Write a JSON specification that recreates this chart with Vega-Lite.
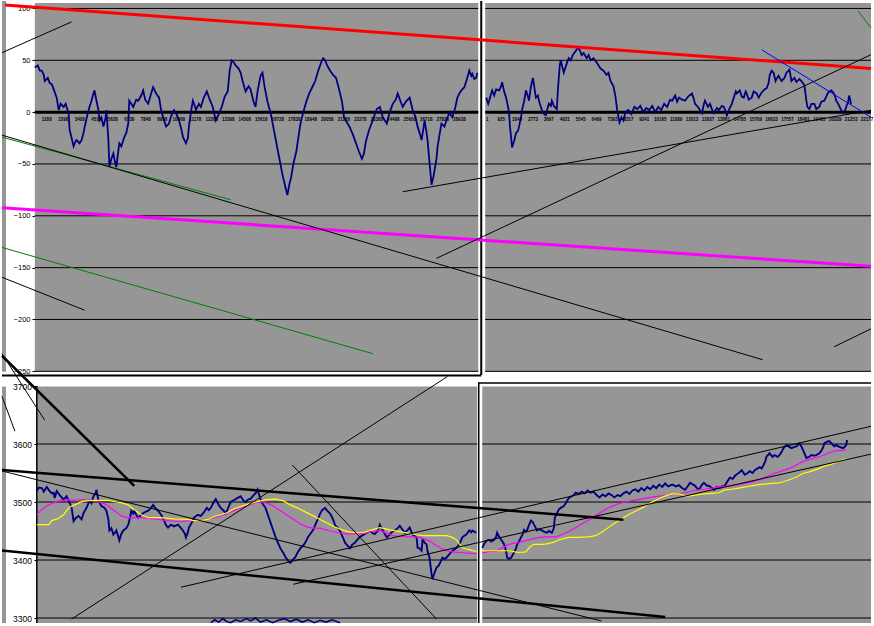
{
"$schema": "https://vega.github.io/schema/vega-lite/v6.json",
"width": 874, "height": 626,
"autosize": {"type": "fit", "contains": "padding"},
"padding": 0,
"background": "#ffffff",
"config": {"view": {"stroke": null}},
"datasets": {
"topPanels": [{"t":0,"t2":4,"v":107.19,"v2":-250.3},{"t":33,"t2":479,"v":105.27,"v2":-250.3},{"t":486,"t2":874,"v":105.27,"v2":-250.3}],
"topGrid": [{"v":100,"t":33,"t2":479},{"v":50,"t":33,"t2":479},{"v":0,"t":33,"t2":479},{"v":-50,"t":33,"t2":479},{"v":-100,"t":33,"t2":479},{"v":-150,"t":33,"t2":479},{"v":-200,"t":33,"t2":479},{"v":-250,"t":33,"t2":479},
{"v":100,"t":486,"t2":874},{"v":50,"t":486,"t2":874},{"v":0,"t":486,"t2":874},{"v":-50,"t":486,"t2":874},{"v":-100,"t":486,"t2":874},{"v":-150,"t":486,"t2":874},{"v":-200,"t":486,"t2":874},{"v":-250,"t":486,"t2":874}],
"topFrame": [{"t":482,"v":107.19,"t2":482,"v2":-253.6},{"t":0,"v":-254.13,"t2":482,"v2":-254.13}],
"topTicks": [{"t":45,"label":"1188"},{"t":61.6,"label":"2298"},{"t":78.2,"label":"3408"},{"t":94.8,"label":"4518"},{"t":111.4,"label":"5628"},{"t":128,"label":"6738"},{"t":144.6,"label":"7848"},{"t":161.2,"label":"8958"},{"t":177.8,"label":"10068"},{"t":194.4,"label":"11178"},{"t":211,"label":"12288"},{"t":227.6,"label":"13398"},{"t":244.2,"label":"14508"},{"t":260.8,"label":"15618"},{"t":277.4,"label":"16728"},{"t":294,"label":"17838"},{"t":310.6,"label":"18948"},{"t":327.2,"label":"20058"},{"t":343.8,"label":"21168"},{"t":360.4,"label":"22278"},{"t":377,"label":"23388"},{"t":393.6,"label":"24498"},{"t":410.2,"label":"25608"},{"t":426.8,"label":"26718"},{"t":443.4,"label":"27828"},{"t":460,"label":"28938"},
{"t":488,"label":"1"},{"t":502,"label":"925"},{"t":518,"label":"1849"},{"t":534,"label":"2773"},{"t":550,"label":"3697"},{"t":566,"label":"4621"},{"t":582,"label":"5545"},{"t":598,"label":"6469"},{"t":614,"label":"7393"},{"t":630,"label":"8317"},{"t":646,"label":"9241"},{"t":662,"label":"10165"},{"t":678,"label":"11089"},{"t":694,"label":"12013"},{"t":710,"label":"12937"},{"t":726,"label":"13861"},{"t":742,"label":"14785"},{"t":758,"label":"15709"},{"t":774,"label":"16633"},{"t":790,"label":"17557"},{"t":806,"label":"18481"},{"t":822,"label":"19405"},{"t":838,"label":"20329"},{"t":854,"label":"21253"},{"t":870,"label":"22177"}],
"topTrends": [
{"t":0,"v":-24.1,"t2":230,"v2":-84.5,"kind":"fan"},
{"t":3,"v":103.35,"t2":874,"v2":42.0,"kind":"resistance"},
{"t":0,"v":-92.16,"t2":874,"v2":-148.71,"kind":"support"},
{"t":0,"v":-22.2,"t2":765,"v2":-238.8,"kind":"trend"},
{"t":0,"v":-130.5,"t2":373,"v2":-233.0,"kind":"fan"},
{"t":0,"v":-159.3,"t2":83,"v2":-191.0,"kind":"trend"},
{"t":0,"v":57.35,"t2":70,"v2":87.06,"kind":"trend"},
{"t":403,"v":-76.8,"t2":874,"v2":1.77,"kind":"trend"},
{"t":437,"v":-141.0,"t2":874,"v2":55.4,"kind":"trend"},
{"t":764,"v":60.2,"t2":874,"v2":-4.9,"kind":"down trend"},
{"t":861,"v":97.6,"t2":874,"v2":81.3,"kind":"fan"},
{"t":837,"v":-226.3,"t2":874,"v2":-209.0,"kind":"trend"}],
"osc": [
{"t":33,"v":43,"s":"L"},{"t":36,"v":45,"s":"L"},{"t":38,"v":40,"s":"L"},{"t":40,"v":40,"s":"L"},{"t":42,"v":36,"s":"L"},{"t":43,"v":30,"s":"L"},{"t":46,"v":33,"s":"L"},{"t":48,"v":28,"s":"L"},{"t":50,"v":27,"s":"L"},{"t":52,"v":22,"s":"L"},{"t":55,"v":14,"s":"L"},{"t":57,"v":2,"s":"L"},{"t":59,"v":8,"s":"L"},{"t":62,"v":5,"s":"L"},{"t":64,"v":8,"s":"L"},{"t":67,"v":-1,"s":"L"},{"t":68,"v":-17,"s":"L"},{"t":70,"v":-25,"s":"L"},{"t":72,"v":-33,"s":"L"},{"t":74,"v":-28,"s":"L"},{"t":75,"v":-27,"s":"L"},{"t":78,"v":-30,"s":"L"},{"t":80,"v":-27,"s":"L"},{"t":82,"v":-20,"s":"L"},{"t":83,"v":-15,"s":"L"},{"t":86,"v":-2,"s":"L"},{"t":88,"v":5,"s":"L"},{"t":90,"v":11,"s":"L"},{"t":92,"v":18,"s":"L"},{"t":93,"v":21,"s":"L"},{"t":95,"v":11,"s":"L"},{"t":97,"v":2,"s":"L"},{"t":98,"v":-8,"s":"L"},{"t":100,"v":-5,"s":"L"},{"t":102,"v":-14,"s":"L"},{"t":104,"v":-6,"s":"L"},{"t":105,"v":2,"s":"L"},{"t":107,"v":-27,"s":"L"},{"t":108,"v":-53,"s":"L"},{"t":110,"v":-45,"s":"L"},{"t":112,"v":-40,"s":"L"},{"t":114,"v":-50,"s":"L"},{"t":115,"v":-53,"s":"L"},{"t":116,"v":-45,"s":"L"},{"t":118,"v":-30,"s":"L"},{"t":120,"v":-33,"s":"L"},{"t":123,"v":-24,"s":"L"},{"t":125,"v":-20,"s":"L"},{"t":127,"v":-11,"s":"L"},{"t":128,"v":11,"s":"L"},{"t":130,"v":8,"s":"L"},{"t":132,"v":5,"s":"L"},{"t":135,"v":12,"s":"L"},{"t":137,"v":11,"s":"L"},{"t":140,"v":16,"s":"L"},{"t":142,"v":21,"s":"L"},{"t":144,"v":12,"s":"L"},{"t":147,"v":8,"s":"L"},{"t":150,"v":18,"s":"L"},{"t":152,"v":24,"s":"L"},{"t":154,"v":20,"s":"L"},{"t":155,"v":18,"s":"L"},{"t":158,"v":14,"s":"L"},{"t":160,"v":2,"s":"L"},{"t":162,"v":-5,"s":"L"},{"t":165,"v":-14,"s":"L"},{"t":168,"v":-11,"s":"L"},{"t":170,"v":-4,"s":"L"},{"t":173,"v":2,"s":"L"},{"t":176,"v":-3,"s":"L"},{"t":178,"v":-8,"s":"L"},{"t":180,"v":-15,"s":"L"},{"t":182,"v":-24,"s":"L"},{"t":185,"v":-30,"s":"L"},{"t":187,"v":-25,"s":"L"},{"t":188,"v":-14,"s":"L"},{"t":190,"v":0,"s":"L"},{"t":192,"v":11,"s":"L"},{"t":194,"v":6,"s":"L"},{"t":195,"v":2,"s":"L"},{"t":198,"v":8,"s":"L"},{"t":200,"v":5,"s":"L"},{"t":203,"v":14,"s":"L"},{"t":206,"v":20,"s":"L"},{"t":209,"v":12,"s":"L"},{"t":212,"v":5,"s":"L"},{"t":215,"v":-8,"s":"L"},{"t":218,"v":-2,"s":"L"},{"t":221,"v":5,"s":"L"},{"t":224,"v":15,"s":"L"},{"t":227,"v":20,"s":"L"},{"t":229,"v":40,"s":"L"},{"t":231,"v":50,"s":"L"},{"t":233,"v":48,"s":"L"},{"t":235,"v":45,"s":"L"},{"t":238,"v":42,"s":"L"},{"t":240,"v":38,"s":"L"},{"t":242,"v":30,"s":"L"},{"t":245,"v":20,"s":"L"},{"t":248,"v":25,"s":"L"},{"t":250,"v":22,"s":"L"},{"t":253,"v":10,"s":"L"},{"t":255,"v":5,"s":"L"},{"t":257,"v":20,"s":"L"},{"t":260,"v":35,"s":"L"},{"t":262,"v":38,"s":"L"},{"t":264,"v":25,"s":"L"},{"t":267,"v":10,"s":"L"},{"t":270,"v":0,"s":"L"},{"t":273,"v":-15,"s":"L"},{"t":276,"v":-30,"s":"L"},{"t":279,"v":-45,"s":"L"},{"t":282,"v":-60,"s":"L"},{"t":285,"v":-72,"s":"L"},{"t":287,"v":-80,"s":"L"},{"t":289,"v":-70,"s":"L"},{"t":291,"v":-62,"s":"L"},{"t":293,"v":-50,"s":"L"},{"t":296,"v":-38,"s":"L"},{"t":298,"v":-25,"s":"L"},{"t":300,"v":-12,"s":"L"},{"t":303,"v":0,"s":"L"},{"t":306,"v":10,"s":"L"},{"t":309,"v":18,"s":"L"},{"t":312,"v":24,"s":"L"},{"t":315,"v":30,"s":"L"},{"t":318,"v":40,"s":"L"},{"t":321,"v":48,"s":"L"},{"t":323,"v":52,"s":"L"},{"t":325,"v":50,"s":"L"},{"t":327,"v":45,"s":"L"},{"t":330,"v":40,"s":"L"},{"t":333,"v":36,"s":"L"},{"t":336,"v":33,"s":"L"},{"t":339,"v":22,"s":"L"},{"t":342,"v":10,"s":"L"},{"t":344,"v":-5,"s":"L"},{"t":347,"v":-10,"s":"L"},{"t":350,"v":-15,"s":"L"},{"t":353,"v":-22,"s":"L"},{"t":356,"v":-30,"s":"L"},{"t":359,"v":-38,"s":"L"},{"t":362,"v":-45,"s":"L"},{"t":364,"v":-40,"s":"L"},{"t":366,"v":-28,"s":"L"},{"t":369,"v":-18,"s":"L"},{"t":372,"v":-10,"s":"L"},{"t":375,"v":-2,"s":"L"},{"t":377,"v":3,"s":"L"},{"t":380,"v":5,"s":"L"},{"t":383,"v":-5,"s":"L"},{"t":387,"v":-11,"s":"L"},{"t":390,"v":0,"s":"L"},{"t":393,"v":8,"s":"L"},{"t":396,"v":12,"s":"L"},{"t":398,"v":18,"s":"L"},{"t":401,"v":10,"s":"L"},{"t":403,"v":5,"s":"L"},{"t":406,"v":10,"s":"L"},{"t":410,"v":14,"s":"L"},{"t":413,"v":2,"s":"L"},{"t":416,"v":-5,"s":"L"},{"t":418,"v":-14,"s":"L"},{"t":420,"v":-20,"s":"L"},{"t":422,"v":-27,"s":"L"},{"t":424,"v":-15,"s":"L"},{"t":425,"v":-8,"s":"L"},{"t":427,"v":-20,"s":"L"},{"t":428,"v":-27,"s":"L"},{"t":430,"v":-49,"s":"L"},{"t":432,"v":-70,"s":"L"},{"t":434,"v":-62,"s":"L"},{"t":435,"v":-56,"s":"L"},{"t":437,"v":-45,"s":"L"},{"t":438,"v":-34,"s":"L"},{"t":440,"v":-22,"s":"L"},{"t":442,"v":-11,"s":"L"},{"t":445,"v":-14,"s":"L"},{"t":448,"v":-5,"s":"L"},{"t":450,"v":-1,"s":"L"},{"t":453,"v":-5,"s":"L"},{"t":456,"v":5,"s":"L"},{"t":458,"v":14,"s":"L"},{"t":460,"v":18,"s":"L"},{"t":462,"v":21,"s":"L"},{"t":465,"v":24,"s":"L"},{"t":467,"v":30,"s":"L"},{"t":470,"v":40,"s":"L"},{"t":472,"v":35,"s":"L"},{"t":473,"v":37,"s":"L"},{"t":475,"v":32,"s":"L"},{"t":477,"v":33,"s":"L"},{"t":478,"v":38,"s":"L"},
{"t":487,"v":14,"s":"R"},{"t":489,"v":8,"s":"R"},{"t":490,"v":11,"s":"R"},{"t":492,"v":18,"s":"R"},{"t":493,"v":21,"s":"R"},{"t":495,"v":16,"s":"R"},{"t":497,"v":22,"s":"R"},{"t":500,"v":21,"s":"R"},{"t":502,"v":25,"s":"R"},{"t":503,"v":29,"s":"R"},{"t":505,"v":20,"s":"R"},{"t":507,"v":14,"s":"R"},{"t":509,"v":5,"s":"R"},{"t":510,"v":-1,"s":"R"},{"t":511,"v":-15,"s":"R"},{"t":512,"v":-24,"s":"R"},{"t":513,"v":-34,"s":"R"},{"t":515,"v":-28,"s":"R"},{"t":517,"v":-20,"s":"R"},{"t":519,"v":-18,"s":"R"},{"t":520,"v":-14,"s":"R"},{"t":522,"v":-5,"s":"R"},{"t":523,"v":2,"s":"R"},{"t":525,"v":10,"s":"R"},{"t":527,"v":21,"s":"R"},{"t":529,"v":15,"s":"R"},{"t":530,"v":11,"s":"R"},{"t":532,"v":25,"s":"R"},{"t":534,"v":33,"s":"R"},{"t":536,"v":20,"s":"R"},{"t":537,"v":14,"s":"R"},{"t":539,"v":16,"s":"R"},{"t":540,"v":11,"s":"R"},{"t":542,"v":5,"s":"R"},{"t":543,"v":2,"s":"R"},{"t":545,"v":-2,"s":"R"},{"t":547,"v":-3,"s":"R"},{"t":549,"v":5,"s":"R"},{"t":550,"v":8,"s":"R"},{"t":552,"v":6,"s":"R"},{"t":553,"v":11,"s":"R"},{"t":555,"v":6,"s":"R"},{"t":558,"v":3,"s":"R"},{"t":559,"v":20,"s":"R"},{"t":560,"v":33,"s":"R"},{"t":561,"v":45,"s":"R"},{"t":562,"v":50,"s":"R"},{"t":564,"v":42,"s":"R"},{"t":565,"v":38,"s":"R"},{"t":567,"v":44,"s":"R"},{"t":568,"v":47,"s":"R"},{"t":570,"v":52,"s":"R"},{"t":572,"v":50,"s":"R"},{"t":574,"v":55,"s":"R"},{"t":577,"v":59,"s":"R"},{"t":579,"v":62,"s":"R"},{"t":581,"v":60,"s":"R"},{"t":583,"v":55,"s":"R"},{"t":585,"v":57,"s":"R"},{"t":588,"v":52,"s":"R"},{"t":590,"v":55,"s":"R"},{"t":592,"v":50,"s":"R"},{"t":595,"v":52,"s":"R"},{"t":598,"v":48,"s":"R"},{"t":600,"v":45,"s":"R"},{"t":602,"v":42,"s":"R"},{"t":605,"v":40,"s":"R"},{"t":608,"v":36,"s":"R"},{"t":610,"v":38,"s":"R"},{"t":612,"v":30,"s":"R"},{"t":615,"v":25,"s":"R"},{"t":617,"v":15,"s":"R"},{"t":619,"v":0,"s":"R"},{"t":621,"v":-10,"s":"R"},{"t":623,"v":-5,"s":"R"},{"t":625,"v":-8,"s":"R"},{"t":627,"v":0,"s":"R"},{"t":630,"v":2,"s":"R"},{"t":633,"v":-2,"s":"R"},{"t":636,"v":5,"s":"R"},{"t":639,"v":3,"s":"R"},{"t":642,"v":6,"s":"R"},{"t":645,"v":0,"s":"R"},{"t":648,"v":4,"s":"R"},{"t":651,"v":2,"s":"R"},{"t":654,"v":6,"s":"R"},{"t":657,"v":0,"s":"R"},{"t":660,"v":5,"s":"R"},{"t":663,"v":2,"s":"R"},{"t":666,"v":8,"s":"R"},{"t":669,"v":5,"s":"R"},{"t":672,"v":12,"s":"R"},{"t":674,"v":11,"s":"R"},{"t":677,"v":16,"s":"R"},{"t":679,"v":10,"s":"R"},{"t":681,"v":14,"s":"R"},{"t":684,"v":12,"s":"R"},{"t":687,"v":11,"s":"R"},{"t":690,"v":15,"s":"R"},{"t":694,"v":18,"s":"R"},{"t":696,"v":12,"s":"R"},{"t":697,"v":8,"s":"R"},{"t":700,"v":5,"s":"R"},{"t":702,"v":2,"s":"R"},{"t":704,"v":-1,"s":"R"},{"t":706,"v":8,"s":"R"},{"t":707,"v":11,"s":"R"},{"t":710,"v":5,"s":"R"},{"t":712,"v":8,"s":"R"},{"t":714,"v":3,"s":"R"},{"t":716,"v":-1,"s":"R"},{"t":719,"v":4,"s":"R"},{"t":721,"v":2,"s":"R"},{"t":724,"v":6,"s":"R"},{"t":726,"v":5,"s":"R"},{"t":728,"v":0,"s":"R"},{"t":729,"v":-3,"s":"R"},{"t":731,"v":2,"s":"R"},{"t":734,"v":8,"s":"R"},{"t":736,"v":14,"s":"R"},{"t":738,"v":20,"s":"R"},{"t":739,"v":18,"s":"R"},{"t":742,"v":21,"s":"R"},{"t":744,"v":15,"s":"R"},{"t":746,"v":14,"s":"R"},{"t":748,"v":20,"s":"R"},{"t":749,"v":18,"s":"R"},{"t":751,"v":12,"s":"R"},{"t":754,"v":14,"s":"R"},{"t":756,"v":20,"s":"R"},{"t":759,"v":18,"s":"R"},{"t":761,"v":14,"s":"R"},{"t":764,"v":19,"s":"R"},{"t":767,"v":22,"s":"R"},{"t":769,"v":23,"s":"R"},{"t":771,"v":28,"s":"R"},{"t":772,"v":35,"s":"R"},{"t":774,"v":40,"s":"R"},{"t":776,"v":38,"s":"R"},{"t":778,"v":30,"s":"R"},{"t":779,"v":32,"s":"R"},{"t":781,"v":35,"s":"R"},{"t":784,"v":30,"s":"R"},{"t":787,"v":33,"s":"R"},{"t":789,"v":38,"s":"R"},{"t":792,"v":41,"s":"R"},{"t":794,"v":30,"s":"R"},{"t":797,"v":33,"s":"R"},{"t":799,"v":29,"s":"R"},{"t":802,"v":32,"s":"R"},{"t":804,"v":30,"s":"R"},{"t":807,"v":26,"s":"R"},{"t":809,"v":11,"s":"R"},{"t":810,"v":5,"s":"R"},{"t":812,"v":3,"s":"R"},{"t":814,"v":8,"s":"R"},{"t":817,"v":8,"s":"R"},{"t":819,"v":3,"s":"R"},{"t":822,"v":5,"s":"R"},{"t":824,"v":10,"s":"R"},{"t":827,"v":11,"s":"R"},{"t":829,"v":15,"s":"R"},{"t":831,"v":19,"s":"R"},{"t":834,"v":21,"s":"R"},{"t":836,"v":19,"s":"R"},{"t":838,"v":15,"s":"R"},{"t":839,"v":11,"s":"R"},{"t":841,"v":8,"s":"R"},{"t":842,"v":6,"s":"R"},{"t":844,"v":2,"s":"R"},{"t":846,"v":-1,"s":"R"},{"t":848,"v":2,"s":"R"},{"t":849,"v":5,"s":"R"},{"t":851,"v":10,"s":"R"},{"t":852,"v":16,"s":"R"},{"t":853,"v":12,"s":"R"},{"t":854,"v":8,"s":"R"}],
"bottomPanels": [{"t":0,"t2":4,"p":3699.1,"p2":3291.43},{"t":35,"t2":478,"p":3699.1,"p2":3291.43},{"t":483,"t2":874,"p":3699.1,"p2":3291.43}],
"bottomGrid": [{"p":3600,"t":35,"t2":478},{"p":3500,"t":35,"t2":478},{"p":3400,"t":35,"t2":478},{"p":3300,"t":35,"t2":478},{"p":3600,"t":483,"t2":874},{"p":3500,"t":483,"t2":874},{"p":3400,"t":483,"t2":874},{"p":3300,"t":483,"t2":874}],
"bottomFrame": [{"t":35,"p":3699.1,"t2":35,"p2":3291.43},{"t":479.5,"p":3706,"t2":479.5,"p2":3291.43},{"t":479,"p":3705.1,"t2":874,"p2":3705.1}],
"lowerOsc": [{"t":210,"p":3292},{"t":214,"p":3297},{"t":218,"p":3293},{"t":222,"p":3299},{"t":226,"p":3294},{"t":230,"p":3292},{"t":235,"p":3297},{"t":240,"p":3294},{"t":246,"p":3299},{"t":250,"p":3295},{"t":255,"p":3300},{"t":260,"p":3293},{"t":266,"p":3297},{"t":272,"p":3292},{"t":278,"p":3296},{"t":284,"p":3299},{"t":290,"p":3294},{"t":296,"p":3298},{"t":302,"p":3293},{"t":308,"p":3297},{"t":314,"p":3292},{"t":320,"p":3296},{"t":326,"p":3293},{"t":332,"p":3297},{"t":340,"p":3292}],
"bottomTrends": [
{"t":0,"p":3555.2,"t2":625,"p2":3469.6,"kind":"channel"},
{"t":0,"p":3416.5,"t2":667,"p2":3301.7,"kind":"channel"},
{"t":0,"p":3752.2,"t2":133,"p2":3527.8,"kind":"channel"},
{"t":0,"p":3755.7,"t2":43,"p2":3640.9,"kind":"trend"},
{"t":0,"p":3682.0,"t2":13,"p2":3622.1,"kind":"trend"},
{"t":0,"p":3553.5,"t2":603,"p2":3294.9,"kind":"trend"},
{"t":70,"p":3298.3,"t2":448,"p2":3716.3,"kind":"trend"},
{"t":180,"p":3353.1,"t2":874,"p2":3630.6,"kind":"trend"},
{"t":293,"p":3358.2,"t2":874,"p2":3582.6,"kind":"trend"},
{"t":292,"p":3563.8,"t2":437,"p2":3298.3,"kind":"trend"}],
"price": [
{"t":35,"p":3519,"s":"L"},{"t":37,"p":3525,"s":"L"},{"t":40,"p":3524,"s":"L"},{"t":42,"p":3518,"s":"L"},{"t":45,"p":3526,"s":"L"},{"t":47,"p":3521,"s":"L"},{"t":50,"p":3515,"s":"L"},{"t":52,"p":3516,"s":"L"},{"t":53,"p":3507,"s":"L"},{"t":55,"p":3519,"s":"L"},{"t":58,"p":3512,"s":"L"},{"t":60,"p":3508,"s":"L"},{"t":62,"p":3504,"s":"L"},{"t":65,"p":3510,"s":"L"},{"t":67,"p":3502,"s":"L"},{"t":69,"p":3495,"s":"L"},{"t":70,"p":3490,"s":"L"},{"t":72,"p":3467,"s":"L"},{"t":74,"p":3472,"s":"L"},{"t":77,"p":3476,"s":"L"},{"t":80,"p":3470,"s":"L"},{"t":82,"p":3481,"s":"L"},{"t":85,"p":3490,"s":"L"},{"t":88,"p":3502,"s":"L"},{"t":90,"p":3498,"s":"L"},{"t":92,"p":3510,"s":"L"},{"t":94,"p":3515,"s":"L"},{"t":95,"p":3521,"s":"L"},{"t":97,"p":3502,"s":"L"},{"t":100,"p":3493,"s":"L"},{"t":103,"p":3490,"s":"L"},{"t":105,"p":3485,"s":"L"},{"t":107,"p":3470,"s":"L"},{"t":108,"p":3451,"s":"L"},{"t":110,"p":3455,"s":"L"},{"t":112,"p":3444,"s":"L"},{"t":114,"p":3448,"s":"L"},{"t":115,"p":3451,"s":"L"},{"t":117,"p":3440,"s":"L"},{"t":118,"p":3434,"s":"L"},{"t":120,"p":3445,"s":"L"},{"t":122,"p":3451,"s":"L"},{"t":125,"p":3455,"s":"L"},{"t":127,"p":3461,"s":"L"},{"t":129,"p":3475,"s":"L"},{"t":130,"p":3485,"s":"L"},{"t":132,"p":3480,"s":"L"},{"t":133,"p":3485,"s":"L"},{"t":135,"p":3478,"s":"L"},{"t":137,"p":3473,"s":"L"},{"t":140,"p":3478,"s":"L"},{"t":143,"p":3482,"s":"L"},{"t":147,"p":3485,"s":"L"},{"t":150,"p":3490,"s":"L"},{"t":152,"p":3495,"s":"L"},{"t":155,"p":3488,"s":"L"},{"t":157,"p":3485,"s":"L"},{"t":160,"p":3478,"s":"L"},{"t":163,"p":3468,"s":"L"},{"t":165,"p":3460,"s":"L"},{"t":167,"p":3456,"s":"L"},{"t":170,"p":3461,"s":"L"},{"t":173,"p":3458,"s":"L"},{"t":177,"p":3461,"s":"L"},{"t":180,"p":3455,"s":"L"},{"t":182,"p":3451,"s":"L"},{"t":184,"p":3445,"s":"L"},{"t":185,"p":3439,"s":"L"},{"t":187,"p":3448,"s":"L"},{"t":188,"p":3456,"s":"L"},{"t":191,"p":3465,"s":"L"},{"t":193,"p":3473,"s":"L"},{"t":197,"p":3478,"s":"L"},{"t":200,"p":3476,"s":"L"},{"t":203,"p":3482,"s":"L"},{"t":206,"p":3490,"s":"L"},{"t":208,"p":3486,"s":"L"},{"t":210,"p":3490,"s":"L"},{"t":213,"p":3500,"s":"L"},{"t":215,"p":3505,"s":"L"},{"t":218,"p":3495,"s":"L"},{"t":220,"p":3490,"s":"L"},{"t":223,"p":3485,"s":"L"},{"t":225,"p":3480,"s":"L"},{"t":228,"p":3492,"s":"L"},{"t":230,"p":3500,"s":"L"},{"t":233,"p":3503,"s":"L"},{"t":235,"p":3505,"s":"L"},{"t":238,"p":3508,"s":"L"},{"t":240,"p":3510,"s":"L"},{"t":243,"p":3502,"s":"L"},{"t":245,"p":3500,"s":"L"},{"t":248,"p":3505,"s":"L"},{"t":250,"p":3505,"s":"L"},{"t":253,"p":3512,"s":"L"},{"t":255,"p":3515,"s":"L"},{"t":257,"p":3522,"s":"L"},{"t":259,"p":3510,"s":"L"},{"t":261,"p":3500,"s":"L"},{"t":263,"p":3495,"s":"L"},{"t":265,"p":3490,"s":"L"},{"t":268,"p":3475,"s":"L"},{"t":270,"p":3465,"s":"L"},{"t":273,"p":3450,"s":"L"},{"t":275,"p":3440,"s":"L"},{"t":278,"p":3428,"s":"L"},{"t":280,"p":3420,"s":"L"},{"t":283,"p":3412,"s":"L"},{"t":285,"p":3405,"s":"L"},{"t":288,"p":3398,"s":"L"},{"t":290,"p":3395,"s":"L"},{"t":292,"p":3400,"s":"L"},{"t":295,"p":3405,"s":"L"},{"t":297,"p":3412,"s":"L"},{"t":300,"p":3420,"s":"L"},{"t":303,"p":3425,"s":"L"},{"t":305,"p":3430,"s":"L"},{"t":308,"p":3440,"s":"L"},{"t":310,"p":3445,"s":"L"},{"t":313,"p":3452,"s":"L"},{"t":315,"p":3460,"s":"L"},{"t":318,"p":3472,"s":"L"},{"t":320,"p":3480,"s":"L"},{"t":322,"p":3486,"s":"L"},{"t":325,"p":3490,"s":"L"},{"t":327,"p":3485,"s":"L"},{"t":330,"p":3480,"s":"L"},{"t":333,"p":3470,"s":"L"},{"t":335,"p":3460,"s":"L"},{"t":338,"p":3455,"s":"L"},{"t":340,"p":3450,"s":"L"},{"t":343,"p":3438,"s":"L"},{"t":345,"p":3430,"s":"L"},{"t":348,"p":3424,"s":"L"},{"t":350,"p":3420,"s":"L"},{"t":352,"p":3426,"s":"L"},{"t":355,"p":3430,"s":"L"},{"t":358,"p":3436,"s":"L"},{"t":360,"p":3440,"s":"L"},{"t":363,"p":3443,"s":"L"},{"t":365,"p":3445,"s":"L"},{"t":368,"p":3448,"s":"L"},{"t":370,"p":3450,"s":"L"},{"t":373,"p":3446,"s":"L"},{"t":375,"p":3445,"s":"L"},{"t":378,"p":3450,"s":"L"},{"t":380,"p":3461,"s":"L"},{"t":383,"p":3451,"s":"L"},{"t":385,"p":3445,"s":"L"},{"t":387,"p":3439,"s":"L"},{"t":390,"p":3444,"s":"L"},{"t":392,"p":3448,"s":"L"},{"t":395,"p":3451,"s":"L"},{"t":398,"p":3455,"s":"L"},{"t":400,"p":3459,"s":"L"},{"t":403,"p":3452,"s":"L"},{"t":405,"p":3447,"s":"L"},{"t":408,"p":3452,"s":"L"},{"t":410,"p":3456,"s":"L"},{"t":413,"p":3444,"s":"L"},{"t":415,"p":3442,"s":"L"},{"t":417,"p":3439,"s":"L"},{"t":418,"p":3421,"s":"L"},{"t":420,"p":3420,"s":"L"},{"t":422,"p":3416,"s":"L"},{"t":423,"p":3435,"s":"L"},{"t":425,"p":3430,"s":"L"},{"t":427,"p":3427,"s":"L"},{"t":428,"p":3415,"s":"L"},{"t":430,"p":3404,"s":"L"},{"t":431,"p":3390,"s":"L"},{"t":432,"p":3376,"s":"L"},{"t":433,"p":3367,"s":"L"},{"t":435,"p":3378,"s":"L"},{"t":437,"p":3387,"s":"L"},{"t":439,"p":3390,"s":"L"},{"t":440,"p":3393,"s":"L"},{"t":443,"p":3404,"s":"L"},{"t":445,"p":3402,"s":"L"},{"t":447,"p":3404,"s":"L"},{"t":450,"p":3410,"s":"L"},{"t":453,"p":3416,"s":"L"},{"t":455,"p":3418,"s":"L"},{"t":457,"p":3421,"s":"L"},{"t":460,"p":3427,"s":"L"},{"t":462,"p":3435,"s":"L"},{"t":463,"p":3439,"s":"L"},{"t":465,"p":3442,"s":"L"},{"t":467,"p":3444,"s":"L"},{"t":470,"p":3451,"s":"L"},{"t":472,"p":3448,"s":"L"},{"t":473,"p":3451,"s":"L"},{"t":475,"p":3449,"s":"L"},{"t":477,"p":3447,"s":"L"},
{"t":483,"p":3421,"s":"R"},{"t":485,"p":3428,"s":"R"},{"t":487,"p":3433,"s":"R"},{"t":490,"p":3435,"s":"R"},{"t":492,"p":3432,"s":"R"},{"t":495,"p":3435,"s":"R"},{"t":497,"p":3440,"s":"R"},{"t":498,"p":3447,"s":"R"},{"t":500,"p":3440,"s":"R"},{"t":502,"p":3435,"s":"R"},{"t":504,"p":3430,"s":"R"},{"t":505,"p":3427,"s":"R"},{"t":507,"p":3415,"s":"R"},{"t":508,"p":3404,"s":"R"},{"t":510,"p":3402,"s":"R"},{"t":512,"p":3404,"s":"R"},{"t":514,"p":3410,"s":"R"},{"t":515,"p":3413,"s":"R"},{"t":517,"p":3420,"s":"R"},{"t":518,"p":3427,"s":"R"},{"t":520,"p":3432,"s":"R"},{"t":522,"p":3439,"s":"R"},{"t":524,"p":3446,"s":"R"},{"t":525,"p":3452,"s":"R"},{"t":527,"p":3449,"s":"R"},{"t":528,"p":3451,"s":"R"},{"t":530,"p":3460,"s":"R"},{"t":532,"p":3468,"s":"R"},{"t":534,"p":3465,"s":"R"},{"t":535,"p":3461,"s":"R"},{"t":537,"p":3455,"s":"R"},{"t":538,"p":3451,"s":"R"},{"t":540,"p":3453,"s":"R"},{"t":543,"p":3451,"s":"R"},{"t":545,"p":3449,"s":"R"},{"t":548,"p":3447,"s":"R"},{"t":550,"p":3450,"s":"R"},{"t":553,"p":3447,"s":"R"},{"t":555,"p":3455,"s":"R"},{"t":556,"p":3473,"s":"R"},{"t":558,"p":3480,"s":"R"},{"t":560,"p":3487,"s":"R"},{"t":562,"p":3490,"s":"R"},{"t":565,"p":3493,"s":"R"},{"t":567,"p":3498,"s":"R"},{"t":570,"p":3507,"s":"R"},{"t":573,"p":3510,"s":"R"},{"t":575,"p":3512,"s":"R"},{"t":577,"p":3516,"s":"R"},{"t":580,"p":3514,"s":"R"},{"t":583,"p":3518,"s":"R"},{"t":586,"p":3515,"s":"R"},{"t":589,"p":3520,"s":"R"},{"t":592,"p":3516,"s":"R"},{"t":595,"p":3518,"s":"R"},{"t":598,"p":3512,"s":"R"},{"t":601,"p":3508,"s":"R"},{"t":604,"p":3513,"s":"R"},{"t":607,"p":3510,"s":"R"},{"t":610,"p":3515,"s":"R"},{"t":613,"p":3512,"s":"R"},{"t":616,"p":3508,"s":"R"},{"t":619,"p":3512,"s":"R"},{"t":622,"p":3510,"s":"R"},{"t":625,"p":3515,"s":"R"},{"t":628,"p":3518,"s":"R"},{"t":631,"p":3514,"s":"R"},{"t":634,"p":3520,"s":"R"},{"t":637,"p":3522,"s":"R"},{"t":640,"p":3518,"s":"R"},{"t":643,"p":3524,"s":"R"},{"t":646,"p":3520,"s":"R"},{"t":649,"p":3526,"s":"R"},{"t":652,"p":3522,"s":"R"},{"t":655,"p":3528,"s":"R"},{"t":658,"p":3524,"s":"R"},{"t":661,"p":3530,"s":"R"},{"t":664,"p":3526,"s":"R"},{"t":667,"p":3532,"s":"R"},{"t":670,"p":3527,"s":"R"},{"t":674,"p":3530,"s":"R"},{"t":678,"p":3527,"s":"R"},{"t":681,"p":3529,"s":"R"},{"t":684,"p":3524,"s":"R"},{"t":687,"p":3521,"s":"R"},{"t":690,"p":3528,"s":"R"},{"t":692,"p":3533,"s":"R"},{"t":695,"p":3530,"s":"R"},{"t":697,"p":3528,"s":"R"},{"t":700,"p":3522,"s":"R"},{"t":702,"p":3524,"s":"R"},{"t":704,"p":3530,"s":"R"},{"t":706,"p":3533,"s":"R"},{"t":709,"p":3528,"s":"R"},{"t":711,"p":3528,"s":"R"},{"t":714,"p":3524,"s":"R"},{"t":716,"p":3521,"s":"R"},{"t":719,"p":3526,"s":"R"},{"t":721,"p":3524,"s":"R"},{"t":724,"p":3527,"s":"R"},{"t":727,"p":3528,"s":"R"},{"t":729,"p":3534,"s":"R"},{"t":732,"p":3542,"s":"R"},{"t":735,"p":3540,"s":"R"},{"t":737,"p":3545,"s":"R"},{"t":739,"p":3548,"s":"R"},{"t":741,"p":3550,"s":"R"},{"t":744,"p":3555,"s":"R"},{"t":747,"p":3547,"s":"R"},{"t":750,"p":3550,"s":"R"},{"t":752,"p":3553,"s":"R"},{"t":755,"p":3550,"s":"R"},{"t":757,"p":3555,"s":"R"},{"t":760,"p":3558,"s":"R"},{"t":762,"p":3560,"s":"R"},{"t":764,"p":3558,"s":"R"},{"t":766,"p":3564,"s":"R"},{"t":768,"p":3572,"s":"R"},{"t":769,"p":3579,"s":"R"},{"t":771,"p":3582,"s":"R"},{"t":772,"p":3584,"s":"R"},{"t":775,"p":3578,"s":"R"},{"t":777,"p":3581,"s":"R"},{"t":780,"p":3578,"s":"R"},{"t":782,"p":3581,"s":"R"},{"t":784,"p":3586,"s":"R"},{"t":786,"p":3593,"s":"R"},{"t":789,"p":3598,"s":"R"},{"t":791,"p":3596,"s":"R"},{"t":794,"p":3593,"s":"R"},{"t":797,"p":3595,"s":"R"},{"t":799,"p":3596,"s":"R"},{"t":802,"p":3601,"s":"R"},{"t":804,"p":3596,"s":"R"},{"t":806,"p":3588,"s":"R"},{"t":808,"p":3580,"s":"R"},{"t":809,"p":3576,"s":"R"},{"t":812,"p":3578,"s":"R"},{"t":814,"p":3581,"s":"R"},{"t":817,"p":3580,"s":"R"},{"t":819,"p":3581,"s":"R"},{"t":822,"p":3584,"s":"R"},{"t":824,"p":3588,"s":"R"},{"t":826,"p":3595,"s":"R"},{"t":827,"p":3601,"s":"R"},{"t":830,"p":3604,"s":"R"},{"t":832,"p":3605,"s":"R"},{"t":835,"p":3600,"s":"R"},{"t":837,"p":3596,"s":"R"},{"t":839,"p":3598,"s":"R"},{"t":841,"p":3596,"s":"R"},{"t":844,"p":3594,"s":"R"},{"t":846,"p":3593,"s":"R"},{"t":848,"p":3596,"s":"R"},{"t":849,"p":3598,"s":"R"},{"t":850,"p":3607,"s":"R"}],
"fastAvg": [
{"t":35,"p":3478,"s":"L"},{"t":38,"p":3484,"s":"L"},{"t":40,"p":3487,"s":"L"},{"t":44,"p":3492,"s":"L"},{"t":47,"p":3495,"s":"L"},{"t":52,"p":3499,"s":"L"},{"t":57,"p":3502,"s":"L"},{"t":62,"p":3503,"s":"L"},{"t":67,"p":3504,"s":"L"},{"t":72,"p":3503,"s":"L"},{"t":83,"p":3504,"s":"L"},{"t":93,"p":3502,"s":"L"},{"t":100,"p":3499,"s":"L"},{"t":104,"p":3496,"s":"L"},{"t":107,"p":3493,"s":"L"},{"t":110,"p":3489,"s":"L"},{"t":113,"p":3485,"s":"L"},{"t":117,"p":3480,"s":"L"},{"t":120,"p":3476,"s":"L"},{"t":124,"p":3474,"s":"L"},{"t":127,"p":3473,"s":"L"},{"t":140,"p":3473,"s":"L"},{"t":153,"p":3471,"s":"L"},{"t":167,"p":3468,"s":"L"},{"t":180,"p":3466,"s":"L"},{"t":190,"p":3468,"s":"L"},{"t":200,"p":3468,"s":"L"},{"t":210,"p":3472,"s":"L"},{"t":220,"p":3476,"s":"L"},{"t":230,"p":3483,"s":"L"},{"t":240,"p":3490,"s":"L"},{"t":250,"p":3496,"s":"L"},{"t":258,"p":3500,"s":"L"},{"t":265,"p":3499,"s":"L"},{"t":272,"p":3494,"s":"L"},{"t":280,"p":3485,"s":"L"},{"t":288,"p":3476,"s":"L"},{"t":295,"p":3468,"s":"L"},{"t":300,"p":3462,"s":"L"},{"t":305,"p":3458,"s":"L"},{"t":312,"p":3455,"s":"L"},{"t":320,"p":3455,"s":"L"},{"t":330,"p":3450,"s":"L"},{"t":338,"p":3447,"s":"L"},{"t":345,"p":3445,"s":"L"},{"t":355,"p":3445,"s":"L"},{"t":365,"p":3446,"s":"L"},{"t":372,"p":3449,"s":"L"},{"t":380,"p":3451,"s":"L"},{"t":387,"p":3446,"s":"L"},{"t":393,"p":3442,"s":"L"},{"t":400,"p":3441,"s":"L"},{"t":407,"p":3440,"s":"L"},{"t":414,"p":3440,"s":"L"},{"t":420,"p":3439,"s":"L"},{"t":425,"p":3436,"s":"L"},{"t":430,"p":3433,"s":"L"},{"t":434,"p":3428,"s":"L"},{"t":437,"p":3425,"s":"L"},{"t":442,"p":3420,"s":"L"},{"t":447,"p":3416,"s":"L"},{"t":453,"p":3414,"s":"L"},{"t":460,"p":3413,"s":"L"},{"t":468,"p":3412,"s":"L"},{"t":477,"p":3411,"s":"L"},
{"t":483,"p":3412,"s":"R"},{"t":490,"p":3415,"s":"R"},{"t":497,"p":3415,"s":"R"},{"t":503,"p":3421,"s":"R"},{"t":510,"p":3427,"s":"R"},{"t":515,"p":3429,"s":"R"},{"t":520,"p":3430,"s":"R"},{"t":525,"p":3433,"s":"R"},{"t":530,"p":3435,"s":"R"},{"t":535,"p":3437,"s":"R"},{"t":540,"p":3439,"s":"R"},{"t":547,"p":3440,"s":"R"},{"t":557,"p":3440,"s":"R"},{"t":562,"p":3443,"s":"R"},{"t":567,"p":3447,"s":"R"},{"t":572,"p":3451,"s":"R"},{"t":577,"p":3456,"s":"R"},{"t":583,"p":3462,"s":"R"},{"t":590,"p":3469,"s":"R"},{"t":596,"p":3476,"s":"R"},{"t":602,"p":3482,"s":"R"},{"t":608,"p":3488,"s":"R"},{"t":614,"p":3493,"s":"R"},{"t":620,"p":3497,"s":"R"},{"t":627,"p":3500,"s":"R"},{"t":635,"p":3503,"s":"R"},{"t":645,"p":3506,"s":"R"},{"t":655,"p":3509,"s":"R"},{"t":665,"p":3511,"s":"R"},{"t":675,"p":3513,"s":"R"},{"t":687,"p":3516,"s":"R"},{"t":694,"p":3519,"s":"R"},{"t":701,"p":3521,"s":"R"},{"t":707,"p":3522,"s":"R"},{"t":714,"p":3524,"s":"R"},{"t":722,"p":3526,"s":"R"},{"t":731,"p":3528,"s":"R"},{"t":741,"p":3530,"s":"R"},{"t":749,"p":3533,"s":"R"},{"t":757,"p":3536,"s":"R"},{"t":764,"p":3540,"s":"R"},{"t":771,"p":3545,"s":"R"},{"t":777,"p":3550,"s":"R"},{"t":782,"p":3552,"s":"R"},{"t":787,"p":3555,"s":"R"},{"t":792,"p":3558,"s":"R"},{"t":797,"p":3562,"s":"R"},{"t":802,"p":3567,"s":"R"},{"t":807,"p":3571,"s":"R"},{"t":812,"p":3573,"s":"R"},{"t":817,"p":3576,"s":"R"},{"t":822,"p":3578,"s":"R"},{"t":827,"p":3581,"s":"R"},{"t":832,"p":3585,"s":"R"},{"t":837,"p":3588,"s":"R"},{"t":843,"p":3589,"s":"R"},{"t":849,"p":3590,"s":"R"}],
"slowAvg": [
{"t":35,"p":3461,"s":"L"},{"t":40,"p":3461,"s":"L"},{"t":47,"p":3461,"s":"L"},{"t":50,"p":3468,"s":"L"},{"t":54,"p":3470,"s":"L"},{"t":57,"p":3472,"s":"L"},{"t":62,"p":3478,"s":"L"},{"t":65,"p":3485,"s":"L"},{"t":67,"p":3490,"s":"L"},{"t":70,"p":3493,"s":"L"},{"t":73,"p":3495,"s":"L"},{"t":78,"p":3499,"s":"L"},{"t":83,"p":3502,"s":"L"},{"t":93,"p":3503,"s":"L"},{"t":107,"p":3503,"s":"L"},{"t":115,"p":3500,"s":"L"},{"t":120,"p":3499,"s":"L"},{"t":127,"p":3495,"s":"L"},{"t":130,"p":3491,"s":"L"},{"t":133,"p":3487,"s":"L"},{"t":137,"p":3482,"s":"L"},{"t":140,"p":3478,"s":"L"},{"t":147,"p":3473,"s":"L"},{"t":160,"p":3473,"s":"L"},{"t":173,"p":3471,"s":"L"},{"t":187,"p":3470,"s":"L"},{"t":193,"p":3468,"s":"L"},{"t":200,"p":3468,"s":"L"},{"t":207,"p":3470,"s":"L"},{"t":213,"p":3475,"s":"L"},{"t":220,"p":3478,"s":"L"},{"t":227,"p":3482,"s":"L"},{"t":233,"p":3488,"s":"L"},{"t":240,"p":3492,"s":"L"},{"t":247,"p":3496,"s":"L"},{"t":253,"p":3499,"s":"L"},{"t":260,"p":3502,"s":"L"},{"t":267,"p":3504,"s":"L"},{"t":275,"p":3505,"s":"L"},{"t":283,"p":3502,"s":"L"},{"t":290,"p":3495,"s":"L"},{"t":297,"p":3490,"s":"L"},{"t":305,"p":3483,"s":"L"},{"t":312,"p":3477,"s":"L"},{"t":320,"p":3470,"s":"L"},{"t":328,"p":3463,"s":"L"},{"t":335,"p":3457,"s":"L"},{"t":342,"p":3452,"s":"L"},{"t":350,"p":3448,"s":"L"},{"t":358,"p":3447,"s":"L"},{"t":365,"p":3448,"s":"L"},{"t":372,"p":3452,"s":"L"},{"t":380,"p":3456,"s":"L"},{"t":385,"p":3454,"s":"L"},{"t":390,"p":3452,"s":"L"},{"t":400,"p":3449,"s":"L"},{"t":407,"p":3447,"s":"L"},{"t":415,"p":3444,"s":"L"},{"t":423,"p":3442,"s":"L"},{"t":433,"p":3442,"s":"L"},{"t":447,"p":3442,"s":"L"},{"t":453,"p":3439,"s":"L"},{"t":456,"p":3436,"s":"L"},{"t":458,"p":3433,"s":"L"},{"t":460,"p":3428,"s":"L"},{"t":463,"p":3421,"s":"L"},{"t":467,"p":3419,"s":"L"},{"t":470,"p":3418,"s":"L"},{"t":474,"p":3416,"s":"L"},{"t":477,"p":3415,"s":"L"},
{"t":483,"p":3416,"s":"R"},{"t":490,"p":3416,"s":"R"},{"t":500,"p":3416,"s":"R"},{"t":510,"p":3416,"s":"R"},{"t":516,"p":3414,"s":"R"},{"t":520,"p":3413,"s":"R"},{"t":527,"p":3414,"s":"R"},{"t":530,"p":3421,"s":"R"},{"t":533,"p":3425,"s":"R"},{"t":535,"p":3427,"s":"R"},{"t":543,"p":3427,"s":"R"},{"t":548,"p":3428,"s":"R"},{"t":553,"p":3430,"s":"R"},{"t":557,"p":3432,"s":"R"},{"t":560,"p":3435,"s":"R"},{"t":565,"p":3437,"s":"R"},{"t":570,"p":3439,"s":"R"},{"t":580,"p":3439,"s":"R"},{"t":590,"p":3440,"s":"R"},{"t":597,"p":3442,"s":"R"},{"t":603,"p":3448,"s":"R"},{"t":609,"p":3455,"s":"R"},{"t":615,"p":3462,"s":"R"},{"t":622,"p":3470,"s":"R"},{"t":630,"p":3478,"s":"R"},{"t":638,"p":3485,"s":"R"},{"t":646,"p":3492,"s":"R"},{"t":654,"p":3500,"s":"R"},{"t":662,"p":3507,"s":"R"},{"t":668,"p":3511,"s":"R"},{"t":674,"p":3514,"s":"R"},{"t":680,"p":3514,"s":"R"},{"t":690,"p":3510,"s":"R"},{"t":697,"p":3512,"s":"R"},{"t":705,"p":3514,"s":"R"},{"t":714,"p":3515,"s":"R"},{"t":721,"p":3516,"s":"R"},{"t":727,"p":3521,"s":"R"},{"t":734,"p":3522,"s":"R"},{"t":741,"p":3524,"s":"R"},{"t":748,"p":3526,"s":"R"},{"t":754,"p":3528,"s":"R"},{"t":761,"p":3530,"s":"R"},{"t":767,"p":3531,"s":"R"},{"t":774,"p":3532,"s":"R"},{"t":781,"p":3533,"s":"R"},{"t":786,"p":3535,"s":"R"},{"t":791,"p":3538,"s":"R"},{"t":796,"p":3541,"s":"R"},{"t":801,"p":3545,"s":"R"},{"t":804,"p":3548,"s":"R"},{"t":807,"p":3550,"s":"R"},{"t":812,"p":3552,"s":"R"},{"t":817,"p":3555,"s":"R"},{"t":822,"p":3558,"s":"R"},{"t":827,"p":3562,"s":"R"},{"t":832,"p":3564,"s":"R"},{"t":837,"p":3567,"s":"R"},{"t":841,"p":3570,"s":"R"},{"t":844,"p":3572,"s":"R"},{"t":849,"p":3574,"s":"R"}]
},
"layer": [
{"data": {"name": "topPanels"}, "mark": {"type": "rect", "color": "#969696"},
 "encoding": {
  "x": {"field": "t", "type": "quantitative", "scale": {"domain": [0, 874], "nice": false, "zero": false}, "axis": null},
  "x2": {"field": "t2"},
  "y": {"field": "v", "type": "quantitative", "scale": {"domain": [-492.76, 107.19], "nice": false, "zero": false},
   "axis": {"orient": "left", "offset": -33, "values": [100, 50, 0, -50, -100, -150, -200, -250], "format": "d", "grid": false, "domain": false, "ticks": true, "tickSize": 3, "tickColor": "#000000", "tickWidth": 1, "labelPadding": 2, "labelFont": "Liberation Sans", "labelFontSize": 7.5, "labelColor": "#000000", "labelOverlap": false, "labelFlush": false, "title": null}},
  "y2": {"field": "v2"}}},
{"data": {"name": "bottomPanels"}, "mark": {"type": "rect", "color": "#969696"},
 "encoding": {
  "x": {"field": "t", "type": "quantitative", "scale": {"domain": [0, 874], "nice": false, "zero": false}, "axis": null},
  "x2": {"field": "t2"},
  "y": {"field": "p", "type": "quantitative", "scale": {"domain": [3291.43, 4363.81], "nice": false, "zero": false},
   "axis": {"orient": "left", "offset": -35, "values": [3700, 3600, 3500, 3400, 3300], "format": "d", "grid": false, "domain": false, "ticks": true, "tickSize": 3, "tickColor": "#000000", "tickWidth": 1, "labelPadding": 2.5, "labelFont": "Liberation Sans", "labelFontSize": 8.5, "labelColor": "#000000", "labelOverlap": false, "labelFlush": false, "title": null}},
  "y2": {"field": "p2"}}},
{"data": {"name": "topGrid"}, "mark": {"type": "rule", "color": "#000000"},
 "encoding": {
  "x": {"field": "t", "type": "quantitative", "scale": {"domain": [0, 874], "nice": false, "zero": false}, "axis": null},
  "x2": {"field": "t2"},
  "y": {"field": "v", "type": "quantitative", "scale": {"domain": [-492.76, 107.19], "nice": false, "zero": false}, "axis": null},
  "strokeWidth": {"condition": {"test": "datum.v == 0", "value": 3}, "value": 1}}},
{"data": {"name": "osc"}, "mark": {"type": "line", "color": "#000080", "strokeWidth": 1.8},
 "encoding": {
  "x": {"field": "t", "type": "quantitative", "scale": {"domain": [0, 874], "nice": false, "zero": false}, "axis": null},
  "y": {"field": "v", "type": "quantitative", "scale": {"domain": [-492.76, 107.19], "nice": false, "zero": false}, "axis": null},
  "detail": {"field": "s", "type": "nominal"}}},
{"data": {"name": "topTicks"}, "mark": {"type": "text", "font": "Liberation Sans", "fontSize": 4.5, "fontWeight": "bold", "color": "#000000", "baseline": "middle", "align": "center"},
 "encoding": {
  "x": {"field": "t", "type": "quantitative", "scale": {"domain": [0, 874], "nice": false, "zero": false}, "axis": null},
  "y": {"datum": -8, "type": "quantitative", "scale": {"domain": [-492.76, 107.19], "nice": false, "zero": false}, "axis": null},
  "text": {"field": "label", "type": "nominal"}}},
{"data": {"name": "topFrame"}, "mark": {"type": "rule", "color": "#000000", "strokeWidth": 2},
 "encoding": {
  "x": {"field": "t", "type": "quantitative", "scale": {"domain": [0, 874], "nice": false, "zero": false}, "axis": null},
  "x2": {"field": "t2"},
  "y": {"field": "v", "type": "quantitative", "scale": {"domain": [-492.76, 107.19], "nice": false, "zero": false}, "axis": null},
  "y2": {"field": "v2"}}},
{"data": {"name": "topTrends"}, "mark": {"type": "rule"},
 "encoding": {
  "x": {"field": "t", "type": "quantitative", "scale": {"domain": [0, 874], "nice": false, "zero": false}, "axis": null},
  "x2": {"field": "t2"},
  "y": {"field": "v", "type": "quantitative", "scale": {"domain": [-492.76, 107.19], "nice": false, "zero": false}, "axis": null},
  "y2": {"field": "v2"},
  "color": {"field": "kind", "type": "nominal", "scale": {"domain": ["resistance", "support", "fan", "trend", "down trend"], "range": ["#ff0000", "#ff00ff", "#008000", "#000000", "#0000ff"]}, "legend": null},
  "strokeWidth": {"condition": {"test": "datum.kind == 'resistance' || datum.kind == 'support'", "value": 3}, "value": 1}}},
{"data": {"name": "bottomGrid"}, "mark": {"type": "rule", "color": "#000000", "strokeWidth": 1},
 "encoding": {
  "x": {"field": "t", "type": "quantitative", "scale": {"domain": [0, 874], "nice": false, "zero": false}, "axis": null},
  "x2": {"field": "t2"},
  "y": {"field": "p", "type": "quantitative", "scale": {"domain": [3291.43, 4363.81], "nice": false, "zero": false}, "axis": null}}},
{"data": {"name": "bottomFrame"}, "mark": {"type": "rule", "color": "#000000", "strokeWidth": 1.5},
 "encoding": {
  "x": {"field": "t", "type": "quantitative", "scale": {"domain": [0, 874], "nice": false, "zero": false}, "axis": null},
  "x2": {"field": "t2"},
  "y": {"field": "p", "type": "quantitative", "scale": {"domain": [3291.43, 4363.81], "nice": false, "zero": false}, "axis": null},
  "y2": {"field": "p2"}}},
{"data": {"name": "lowerOsc"}, "mark": {"type": "line", "color": "#000080", "strokeWidth": 1.6},
 "encoding": {
  "x": {"field": "t", "type": "quantitative", "scale": {"domain": [0, 874], "nice": false, "zero": false}, "axis": null},
  "y": {"field": "p", "type": "quantitative", "scale": {"domain": [3291.43, 4363.81], "nice": false, "zero": false}, "axis": null}}},
{"data": {"name": "price"}, "mark": {"type": "line", "color": "#000080", "strokeWidth": 1.9},
 "encoding": {
  "x": {"field": "t", "type": "quantitative", "scale": {"domain": [0, 874], "nice": false, "zero": false}, "axis": null},
  "y": {"field": "p", "type": "quantitative", "scale": {"domain": [3291.43, 4363.81], "nice": false, "zero": false}, "axis": null},
  "detail": {"field": "s", "type": "nominal"}}},
{"data": {"name": "fastAvg"}, "mark": {"type": "line", "color": "#ff00ff", "strokeWidth": 1.2},
 "encoding": {
  "x": {"field": "t", "type": "quantitative", "scale": {"domain": [0, 874], "nice": false, "zero": false}, "axis": null},
  "y": {"field": "p", "type": "quantitative", "scale": {"domain": [3291.43, 4363.81], "nice": false, "zero": false}, "axis": null},
  "detail": {"field": "s", "type": "nominal"}}},
{"data": {"name": "slowAvg"}, "mark": {"type": "line", "color": "#ffff00", "strokeWidth": 1.2},
 "encoding": {
  "x": {"field": "t", "type": "quantitative", "scale": {"domain": [0, 874], "nice": false, "zero": false}, "axis": null},
  "y": {"field": "p", "type": "quantitative", "scale": {"domain": [3291.43, 4363.81], "nice": false, "zero": false}, "axis": null},
  "detail": {"field": "s", "type": "nominal"}}},
{"data": {"name": "bottomTrends"}, "mark": {"type": "rule", "color": "#000000"},
 "encoding": {
  "x": {"field": "t", "type": "quantitative", "scale": {"domain": [0, 874], "nice": false, "zero": false}, "axis": null},
  "x2": {"field": "t2"},
  "y": {"field": "p", "type": "quantitative", "scale": {"domain": [3291.43, 4363.81], "nice": false, "zero": false}, "axis": null},
  "y2": {"field": "p2"},
  "strokeWidth": {"condition": {"test": "datum.kind == 'channel'", "value": 2.5}, "value": 1}}}
],
"resolve": {"scale": {"y": "independent"}, "axis": {"y": "independent"}}
}
